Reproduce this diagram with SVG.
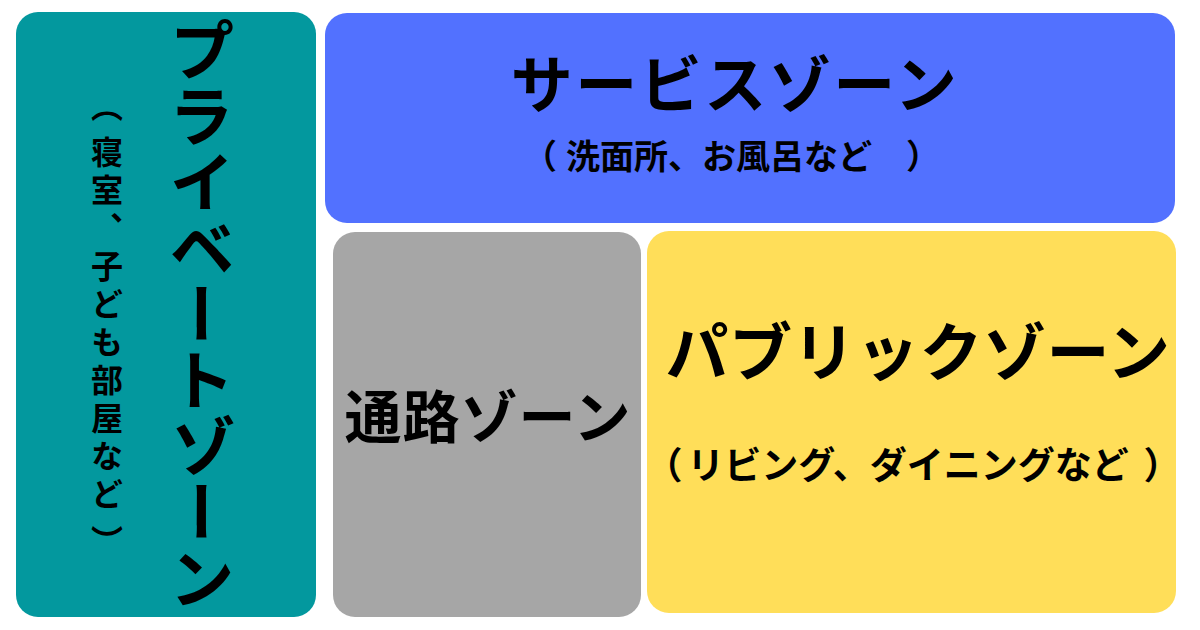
<svg xmlns="http://www.w3.org/2000/svg" width="1200" height="630" viewBox="0 0 1200 630">
<style>
  .t { font-family: "Noto Sans CJK JP", "Noto Sans", sans-serif; font-weight: 700; fill: #000; }
  .h { dominant-baseline: central; text-anchor: middle; }
  .v { writing-mode: vertical-rl; text-anchor: middle; }
  .vs { writing-mode: vertical-rl; text-anchor: start; }
</style>
<rect width="1200" height="630" fill="#ffffff"/>
<g id="private-zone">
  <rect x="16" y="12" width="300" height="605" rx="22" fill="#03989e"/>
  <text class="t v" x="202" y="314" font-size="66">プライベートゾーン</text>
  <text class="t vs" x="107" font-size="32" letter-spacing="6"><tspan y="90">（</tspan><tspan y="136">寝室、子ども部屋など</tspan><tspan y="525">）</tspan></text>
</g>
<g id="service-zone">
  <rect x="325" y="13" width="850" height="210" rx="22" fill="#5271ff"/>
  <text class="t h" x="735" y="81" font-size="62" letter-spacing="2.5">サービスゾーン</text>
  <text class="t h" y="153.5" font-size="34"><tspan x="540">（</tspan><tspan x="719">洗面所、お風呂など</tspan><tspan x="923">）</tspan></text>
</g>
<g id="corridor-zone">
  <rect x="333" y="232" width="308" height="385" rx="22" fill="#a6a6a6"/>
  <text class="t h" x="488" y="413" font-size="57" letter-spacing="1">通路ゾーン</text>
</g>
<g id="public-zone">
  <rect x="647" y="231" width="529" height="382" rx="22" fill="#ffde59"/>
  <text class="t h" x="918" y="347" font-size="63" letter-spacing="0.5">パブリックゾーン</text>
  <text class="t h" y="462.5" font-size="37"><tspan x="664">（</tspan><tspan x="908">リビング、ダイニングなど</tspan><tspan x="1162">）</tspan></text>
</g>
<g id="connectors"></g>
</svg>
